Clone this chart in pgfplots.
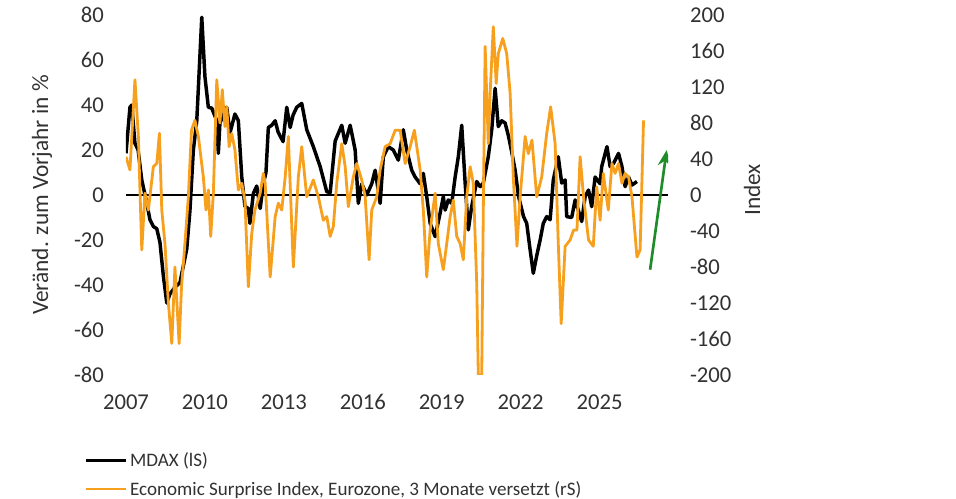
\documentclass[border=0pt]{standalone}
\usepackage{pgfplots}
\pgfplotsset{compat=1.18}
\usepackage{pgfplotstable}
\usepackage{fontspec}
\setmainfont{Carlito}
\usetikzlibrary{arrows.meta}
\definecolor{txt}{RGB}{50,50,50}
\definecolor{orng}{RGB}{247,160,30}
\definecolor{grn}{RGB}{30,140,40}

\pgfplotstableread{
x y
2007.00 18.5
2007.15 39
2007.22 40
2007.34 23
2007.46 20
2007.60 6.7
2007.79 -3.6
2007.91 -11
2008.04 -14
2008.17 -15
2008.29 -21
2008.42 -36
2008.55 -48
2008.67 -44
2008.86 -41
2009.05 -39
2009.31 -24
2009.43 -7
2009.56 20
2009.69 33
2009.88 79
2010.00 52.6
2010.13 39
2010.26 38.6
2010.45 33
2010.51 18.5
2010.57 32
2010.83 39
2010.95 27.5
2011.14 36
2011.27 33
2011.40 8
2011.52 -5
2011.65 -6
2011.71 -12.6
2011.84 0.7
2011.97 4
2012.10 -6
2012.22 5
2012.32 10
2012.41 30
2012.54 31
2012.67 33
2012.78 28
2012.97 23.7
2013.11 39
2013.24 30
2013.35 35.5
2013.49 39
2013.68 40.7
2013.87 29
2014.12 21.5
2014.38 12.6
2014.63 1.5
2014.76 1
2014.95 24
2015.20 31
2015.33 23
2015.52 31
2015.71 20
2015.83 -3.7
2015.96 5
2016.15 0
2016.34 5
2016.47 11
2016.66 -3.7
2016.78 17
2016.97 21.5
2017.16 20
2017.35 15.5
2017.54 29
2017.67 20
2017.86 11
2017.99 8
2018.18 5
2018.30 9.6
2018.43 -0.7
2018.56 -12.6
2018.75 -18.5
2018.94 -8
2019.06 -0.7
2019.13 -6.7
2019.25 -2.2
2019.38 -3.7
2019.51 8
2019.63 17
2019.76 31
2019.89 5.3
2020.01 -15.5
2020.14 -5
2020.33 6
2020.46 3.7
2020.58 5.3
2020.77 17
2020.90 29
2021.03 47.4
2021.15 30.4
2021.28 33
2021.41 32
2021.54 26
2021.67 18.5
2021.79 11
2021.92 -0.7
2022.11 -9.6
2022.23 -12.6
2022.36 -24.4
2022.48 -34.8
2022.61 -27
2022.74 -20
2022.86 -12.6
2022.99 -9.6
2023.12 -11
2023.24 6.7
2023.43 17
2023.56 5.3
2023.69 6.7
2023.75 -9.6
2023.94 -10
2024.07 -2.2
2024.19 -6.7
2024.32 -11.8
2024.45 -0.7
2024.58 2.2
2024.70 -5.2
2024.83 8
2025.02 5
2025.08 12.6
2025.28 21.5
2025.40 12.6
2025.53 14
2025.72 18.5
2025.85 12.6
2025.97 3.7
2026.10 8
2026.23 4.4
2026.42 6
}\mdax

\pgfplotstableread{
x y
2007.00 42.6
2007.15 27.8
2007.34 128
2007.47 64.8
2007.60 -61
2007.72 2
2007.85 -16.7
2008.04 31.5
2008.17 35
2008.27 68.5
2008.36 -16.7
2008.48 -53.7
2008.61 -120
2008.74 -165
2008.86 -80
2009.02 -165
2009.11 -102
2009.24 -53.7
2009.37 -2
2009.49 72
2009.62 83
2009.75 65
2009.94 20
2010.04 -16.7
2010.13 5.6
2010.22 -46
2010.32 2
2010.45 128
2010.57 80
2010.66 117
2010.76 76
2010.83 98
2010.92 53.7
2011.02 68.5
2011.14 50
2011.27 5.6
2011.40 13
2011.52 -5.6
2011.65 -102
2011.78 -42.6
2011.90 -16.7
2012.10 2
2012.22 24
2012.29 13
2012.48 -91
2012.67 -24
2012.79 -9
2012.92 -16.7
2013.05 20
2013.17 65
2013.36 -80
2013.55 20
2013.68 53.7
2013.87 -2
2014.12 16.7
2014.31 -2
2014.50 -28
2014.63 -24
2014.76 -46
2014.88 -35
2015.01 13
2015.20 57
2015.33 31.5
2015.45 -13
2015.64 20
2015.77 35
2015.96 16.7
2016.09 -2
2016.24 -72
2016.34 -16.7
2016.53 -2
2016.66 28
2016.85 53.7
2017.04 57
2017.23 72
2017.42 72
2017.61 35
2017.80 53.7
2017.96 72
2018.18 28
2018.30 -16.7
2018.43 -91
2018.56 -39
2018.75 2
2018.87 -54
2019.06 -83
2019.19 -54
2019.32 -24
2019.44 -5.6
2019.57 -46
2019.70 -54
2019.82 -72
2019.95 -2
2020.08 31.5
2020.20 13
2020.33 -98
2020.39 -200
2020.52 -200
2020.58 -16.7
2020.65 165
2020.77 57
2020.84 113
2020.96 187
2021.07 124
2021.15 157
2021.32 174
2021.47 157
2021.60 113
2021.72 20
2021.86 -57
2021.98 -2
2022.17 65
2022.29 46
2022.43 61
2022.61 -2
2022.80 20
2022.99 68.5
2023.14 98
2023.31 57
2023.43 -54
2023.54 -143
2023.69 -57
2023.88 -50
2024.01 -39
2024.14 -39
2024.26 42.6
2024.39 -2
2024.58 -50
2024.76 -57
2024.89 9
2025.02 -28
2025.14 24
2025.33 -16.7
2025.47 35
2025.59 24
2025.72 35
2025.85 13
2025.97 24
2026.10 20
2026.23 -2
2026.42 -69
2026.54 -61
2026.67 83
}\esi

\begin{document}
\begin{tikzpicture}
\useasboundingbox (-94.5pt,-93pt) rectangle (622.5pt,281.25pt);
\pgfplotsset{
  common/.style={
    scale only axis, width=406.5pt, height=270pt,
    at={(0,0)}, anchor=south west,
    xmin=2007, xmax=2027.6,
    axis line style={draw=none},
    tick style={draw=none},
    major tick length=0pt,
    /pgf/number format/assume math mode=true,
    /pgf/number format/1000 sep={},
    ticklabel style={font=\fontsize{17}{20}\selectfont, text=txt},
    label style={font=\fontsize{17.5}{20}\selectfont, text=txt},
  }
}
\begin{axis}[common,
  ymin=-80, ymax=80,
  ytick={-80,-60,...,80},
  xtick={2007,2010,...,2025},
  yticklabel style={anchor=east, xshift=-13pt},
  xticklabel style={anchor=north, yshift=-11pt},
  ylabel={Veränd. zum Vorjahr in \%},
  ylabel style={at={(axis description cs:-0.155,0.5)}, anchor=center},
]
\addplot[black, line width=0.9pt] coordinates {(2007,0) (2027.6,0)};
\addplot[black, line width=2.6pt, line join=round] table[x=x,y=y] {\mdax};
\end{axis}
\begin{axis}[common,
  ymin=-200, ymax=200,
  ytick={-200,-160,...,200},
  xtick=\empty,
  yticklabel pos=right,
  yticklabel style={anchor=west, xshift=13pt},
  ylabel={Index},
  ylabel style={at={(axis description cs:1.155,0.514)}, anchor=center},
  legend style={draw=none, fill=none, at={(axis description cs:-0.078,-0.207)}, anchor=north west,
    font=\fontsize{14.3}{17}\selectfont, text=txt, row sep=5.5pt, inner sep=0pt},
  legend cell align=left,
  legend image code/.code={\draw[#1] (0pt,0pt) -- (30pt,0pt);},
]
\addlegendimage{black, line width=2.6pt}
\addlegendentry{MDAX (lS)}
\addplot[orng, line width=2.1pt, line join=round] table[x=x,y=y] {\esi};
\addlegendentry{Economic Surprise Index, Eurozone, 3 Monate versetzt (rS)}
\draw[grn, line width=2pt, -{Stealth[length=12pt,width=10pt]}] (axis cs:2026.92,-83) -- (axis cs:2027.55,50);
\end{axis}
\end{tikzpicture}
\end{document}
